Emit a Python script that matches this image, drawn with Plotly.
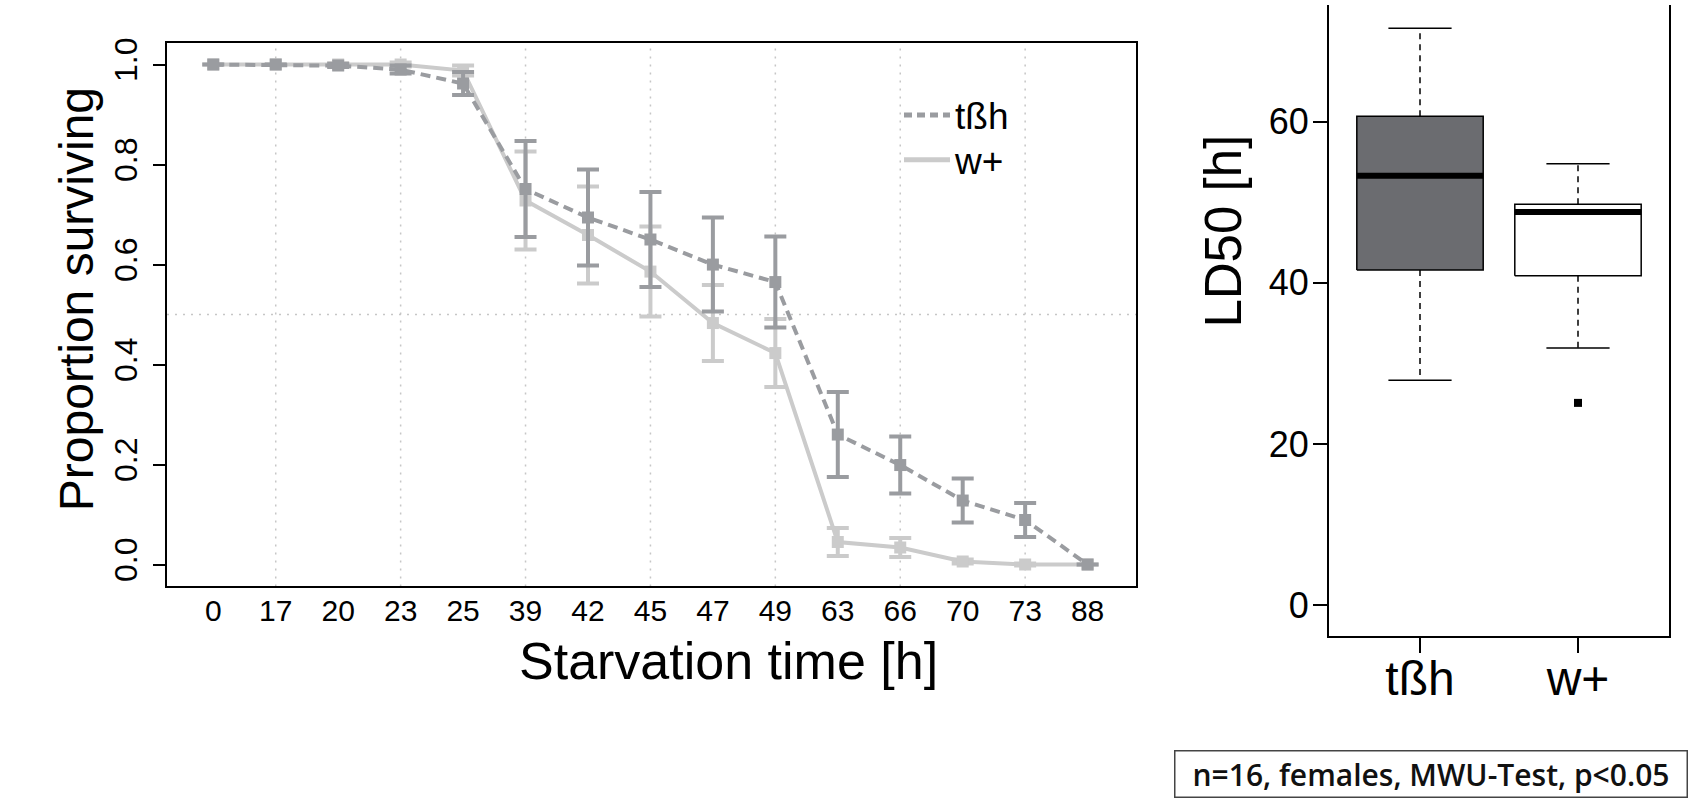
import plotly.graph_objects as go

# ---------------- data ----------------
times = ["0", "17", "20", "23", "25", "39", "42", "45", "47", "49", "63", "66", "70", "73", "88"]
tbh_mean = [1.0, 1.0, 0.998, 0.99, 0.962, 0.751, 0.694, 0.650, 0.600, 0.565, 0.260, 0.199, 0.128, 0.089, 0.0]
tbh_err = [None, None, 0.003, 0.008, 0.023, 0.096, 0.096, 0.095, 0.094, 0.091, 0.085, 0.057, 0.044, 0.034, None]
wp_mean = [1.0, 1.0, 1.0, 1.0, 0.988, 0.728, 0.659, 0.586, 0.483, 0.423, 0.045, 0.034, 0.006, 0.0, 0.0]
wp_err = [None, None, 0.003, 0.004, 0.010, 0.098, 0.097, 0.090, 0.076, 0.068, 0.028, 0.019, 0.004, 0.002, None]

groups = ["tßh", "w+"]
ld50_q1 = [41.6, 40.9]
ld50_median = [53.3, 48.8]
ld50_q3 = [60.7, 49.75]
ld50_lower = [27.9, 31.9]
ld50_upper = [71.6, 54.8]
outlier_group = ["w+"]
outlier_value = [25.1]

y_ticks = [0.0, 0.2, 0.4, 0.6, 0.8, 1.0]
ld_ticks = [0, 20, 40, 60]

# ---------------- style ----------------
DARK = "#9a9ca0"
LIGHT = "#cbcbcb"
BOXFILL = "#6b6c70"
FONT = "Liberation Sans, Arial, Helvetica, sans-serif"
W, H = 1701, 807

xi = list(range(len(times)))


def nan_none(a):
    return [v if v is not None else float("nan") for v in a]


fig = go.Figure()

# survival curves
fig.add_trace(go.Scatter(
    x=xi, y=wp_mean, mode="lines+markers", showlegend=False,
    line=dict(color=LIGHT, width=4),
    marker=dict(symbol="square", size=12, color=LIGHT),
    error_y=dict(type="data", array=nan_none(wp_err), color=LIGHT, thickness=4, width=11),
    xaxis="x", yaxis="y"))
fig.add_trace(go.Scatter(
    x=xi, y=tbh_mean, mode="lines+markers", showlegend=False,
    line=dict(color=DARK, width=4, dash="10px,6px"),
    marker=dict(symbol="square", size=12, color=DARK),
    error_y=dict(type="data", array=nan_none(tbh_err), color=DARK, thickness=4, width=11),
    xaxis="x", yaxis="y"))

# legend-only entries (lines only, as in the reference legend)
fig.add_trace(go.Scatter(x=[None], y=[None], mode="lines", name=groups[0], legend="legend",
                         line=dict(color=DARK, width=5, dash="8px,5px"), xaxis="x", yaxis="y"))
fig.add_trace(go.Scatter(x=[None], y=[None], mode="lines", name=groups[1], legend="legend2",
                         line=dict(color=LIGHT, width=5), xaxis="x", yaxis="y"))

# grid (every second position) and 50% reference line
for v in xi[1::2]:
    fig.add_shape(type="line", xref="x", yref="y domain", x0=v, x1=v, y0=0, y1=1,
                  line=dict(color="#c6c6c6", width=1.5, dash="2px,6px"), layer="below")
fig.add_shape(type="line", xref="x domain", yref="y", x0=0, x1=1, y0=0.5, y1=0.5,
              line=dict(color="#c6c6c6", width=1.5, dash="2px,6px"), layer="below")

# ---------------- boxplots ----------------
pos = [i + 1 for i in range(len(groups))]
half = 0.4
cap = 0.2
fills = [BOXFILL, "white"]
for i, g in enumerate(groups):
    p = pos[i]
    fig.add_trace(go.Scatter(
        x=[p, p, None, p, p], y=[ld50_q3[i], ld50_upper[i], None, ld50_q1[i], ld50_lower[i]],
        mode="lines", line=dict(color="black", width=1.5, dash="6px,5px"),
        showlegend=False, xaxis="x2", yaxis="y2"))
    fig.add_trace(go.Scatter(
        x=[p - cap, p + cap, None, p - cap, p + cap],
        y=[ld50_upper[i], ld50_upper[i], None, ld50_lower[i], ld50_lower[i]],
        mode="lines", line=dict(color="black", width=1.5),
        showlegend=False, xaxis="x2", yaxis="y2"))
    fig.add_trace(go.Scatter(
        x=[p - half, p + half, p + half, p - half, p - half],
        y=[ld50_q1[i], ld50_q1[i], ld50_q3[i], ld50_q3[i], ld50_q1[i]],
        mode="lines", fill="toself", fillcolor=fills[i],
        line=dict(color="black", width=1.5),
        showlegend=False, xaxis="x2", yaxis="y2"))
    fig.add_trace(go.Scatter(
        x=[p - half, p + half], y=[ld50_median[i], ld50_median[i]],
        mode="lines", line=dict(color="black", width=6),
        showlegend=False, xaxis="x2", yaxis="y2"))

fig.add_trace(go.Scatter(
    x=[pos[groups.index(g)] for g in outlier_group], y=outlier_value,
    mode="markers", marker=dict(symbol="square", size=8, color="black"),
    showlegend=False, xaxis="x2", yaxis="y2"))


# ---------------- layout ----------------
def px_x(v):
    return v / W


def px_y(v):
    return (H - v) / H


legend_style = dict(xanchor="left", yanchor="top", bgcolor="rgba(0,0,0,0)", borderwidth=0,
                    font=dict(size=37, family=FONT, color="black"), itemwidth=46)

fig.update_layout(
    width=W, height=H,
    margin=dict(l=0, r=0, t=0, b=0),
    paper_bgcolor="white", plot_bgcolor="white",
    font=dict(family=FONT, color="black"),
    xaxis=dict(domain=[px_x(167), px_x(1136)], range=[-0.741, 14.775],
               tickmode="array", tickvals=xi, ticktext=times,
               showgrid=False, zeroline=False, showline=True, mirror=True,
               linecolor="black", linewidth=2, ticks="", ticklabelstandoff=-3,
               tickfont=dict(size=30, family=FONT, color="black")),
    yaxis=dict(domain=[px_y(585), px_y(38)], range=[-0.0437, 1.0437],
               tickmode="array", tickvals=y_ticks, ticktext=[f"{v:.1f}" for v in y_ticks],
               tickangle=-90, showgrid=False, zeroline=False, showline=True, mirror=True,
               linecolor="black", linewidth=2, ticks="outside", ticklen=12, tickwidth=2,
               tickcolor="black", ticklabelstandoff=3,
               tickfont=dict(size=32, family=FONT, color="black")),
    xaxis2=dict(domain=[px_x(1329), px_x(1669)], range=[0.424, 2.576], anchor="y2",
                tickmode="array", tickvals=pos, ticktext=groups,
                showgrid=False, zeroline=False, showline=True, mirror=False,
                linecolor="black", linewidth=2, ticks="outside", ticklen=15, tickwidth=1.5,
                tickcolor="black", ticklabelstandoff=-16,
                tickfont=dict(size=48, family=FONT, color="black")),
    yaxis2=dict(domain=[px_y(635), 1.0], range=[-3.85, 74.5], anchor="x2",
                tickmode="array", tickvals=ld_ticks,
                showgrid=False, zeroline=False, showline=True, mirror=True,
                linecolor="black", linewidth=2, ticks="outside", ticklen=14, tickwidth=1.5,
                tickcolor="black", ticklabelstandoff=-3,
                tickfont=dict(size=36, family=FONT, color="black")),
    legend=dict(x=px_x(899), y=px_y(80), **legend_style),
    legend2=dict(x=px_x(899), y=px_y(125), **legend_style),
    showlegend=True,
)

annotations = [
    dict(text="Starvation time [h]", x=px_x(728), y=px_y(660), xref="paper", yref="paper",
         xanchor="center", yanchor="middle", showarrow=False,
         font=dict(size=52, family=FONT, color="black")),
    dict(text="Proportion surviving", x=px_x(76), y=px_y(296), xref="paper", yref="paper",
         xanchor="center", yanchor="middle", showarrow=False, textangle=-90,
         font=dict(size=48, family=FONT, color="black")),
    dict(text="LD50 [h]", x=px_x(1224), y=px_y(228), xref="paper", yref="paper",
         xanchor="center", yanchor="middle", showarrow=False, textangle=-90,
         font=dict(size=51, family=FONT, color="black")),
    dict(text="n=16, females, MWU-Test, p<0.05", x=px_x(1431), y=px_y(774),
         xref="paper", yref="paper", xanchor="center", yanchor="middle", showarrow=False,
         width=511, height=45, bordercolor="#444444", borderwidth=1.5, borderpad=0,
         bgcolor="white",
         font=dict(size=30, family="Open Sans, Noto Sans, sans-serif", color="#111111",
                   weight=600)),
]
fig.update_layout(annotations=annotations)

fig.write_html("out.html")
